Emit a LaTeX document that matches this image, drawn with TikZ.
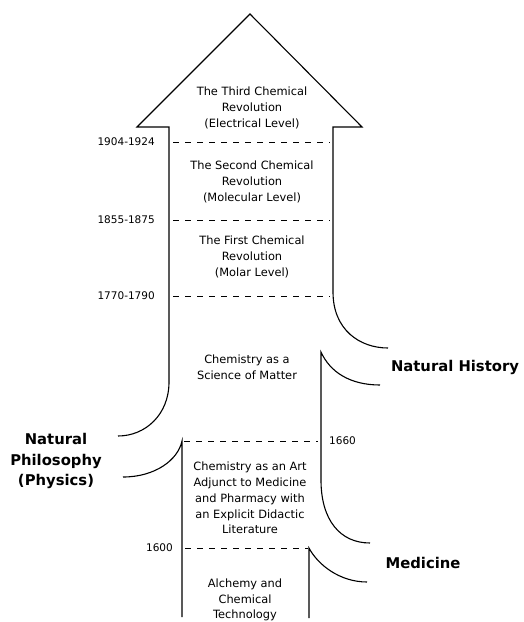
\documentclass[tikz,border=0pt]{standalone}
\usepackage{fontspec}
\setmainfont{DejaVu Sans}
\begin{document}
\begin{tikzpicture}[x=1pt,y=-1pt,
  outline/.style={line width=1.1pt,line join=miter},
  dashline/.style={line width=1pt,dash pattern=on 6pt off 6pt},
  txt/.style={font=\fontsize{11.4}{15.8}\selectfont,align=center,inner sep=0pt},
  yr/.style={font=\fontsize{10.5}{13}\selectfont,inner sep=0pt},
  big/.style={font=\bfseries\fontsize{14.8}{20.5}\selectfont,align=center,inner sep=0pt}]
\useasboundingbox (0,0) rectangle (523,622);
% arrow outline
\draw[outline] (118,436) .. controls (145,436) and (169,415) .. (169,382)
  -- (169,127) -- (137,127) -- (250,14) -- (362,127) -- (333,127)
  -- (333,292) .. controls (333,330) and (360,348) .. (388,348);
% 1660 block
\draw[outline] (123,477) .. controls (155,477) and (178,460) .. (182,441) -- (182,617);
\draw[outline] (380,385) .. controls (350,385) and (330,372) .. (321,352)
  -- (321,480) .. controls (321,520) and (340,543) .. (370,543);
% medicine block
\draw[outline] (367,582) .. controls (340,582) and (318,565) .. (309,548) -- (309,618);
% dashed lines
\draw[dashline] (173,142) -- (330,142);
\draw[dashline] (173,220) -- (330,220);
\draw[dashline] (173,296) -- (330,296);
\draw[dashline] (184,441) -- (318,441);
\draw[dashline] (185,548) -- (308,548);
% years
\node[yr,anchor=east] (y1904) at (155,142) {1904-1924};
\node[yr,anchor=east] (y1855) at (155,220) {1855-1875};
\node[yr,anchor=east] (y1770) at (155,296) {1770-1790};
\node[yr,anchor=west] (y1660) at (329,441) {1660};
\node[yr,anchor=east] (y1600) at (173,548) {1600};
% texts
\node[txt] (third) at (252,108) {The Third Chemical\\Revolution\\(Electrical Level)};
\node[txt] (second) at (252,182) {The Second Chemical\\Revolution\\(Molecular Level)};
\node[txt] (first) at (252,257) {The First Chemical\\Revolution\\(Molar Level)};
\node[txt] (matter) at (247,367) {Chemistry as a\\Science of Matter};
\node[txt] (art) at (250,498) {Chemistry as an Art\\Adjunct to Medicine\\and Pharmacy with\\an Explicit Didactic\\Literature};
\node[txt] (alchemy) at (245,600) {Alchemy and\\Chemical\\Technology};
% labels
\node[big] (nathist) at (455,367) {Natural History};
\node[big] (natphil) at (56,461) {Natural\\Philosophy\\(Physics)};
\node[big] (medicine) at (423,563) {Medicine};
\end{tikzpicture}
\end{document}
